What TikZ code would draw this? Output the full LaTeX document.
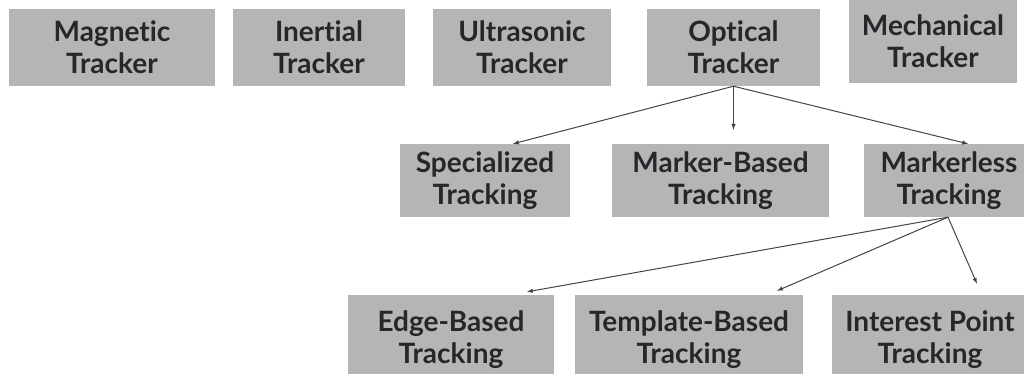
\documentclass[tikz,border=0pt]{standalone}
\usepackage{fontspec}
\setsansfont[Ligatures=NoCommon]{Lato}
\usepackage{tikz}
\usetikzlibrary{arrows}
\definecolor{boxgray}{HTML}{B5B5B5}
\definecolor{txtgray}{HTML}{26262B}
\definecolor{lingray}{HTML}{444444}
\tikzset{
  trknode/.style = {align=center, inner sep=0pt, text centered,
    font=\sffamily\bfseries\fontsize{28}{32}\selectfont, text=txtgray},
  trk_top/.style = {trknode, rectangle, fill=boxgray,
    minimum height=77pt},% rangee du haut, capteurs
  trk_mid/.style = {trknode, rectangle, fill=boxgray,
    minimum height=73pt},% rangee du milieu
  trk_low/.style = {trknode, rectangle, fill=boxgray,
    minimum height=90pt},% rangee du bas
  trk_arr/.style = {-latex, draw=lingray, line width=1pt}% fleche
}

\begin{document}
\begin{tikzpicture}[x=1pt, y=-1pt]
	\path[use as bounding box, clip] (0,0) rectangle (1024,374);
	\node [trk_top, minimum width=206pt] (mag) at (112,47.5) {Magnetic\\Tracker};
	\node [trk_top, minimum width=172pt] (ine) at (319,47.5) {Inertial\\Tracker};
	\node [trk_top, minimum width=178pt] (ult) at (522,47.5) {Ultrasonic\\Tracker};
	\node [trk_top, minimum width=173pt] (opt) at (733.5,47.5) {Optical\\Tracker};
	\node [trk_top, minimum width=168pt, minimum height=83pt] (mec) at (933,41.5) {Mechanical\\Tracker};

	\node [trk_mid, minimum width=170pt] (spe) at (485,180.5) {Specialized\\Tracking};
	\node [trk_mid, minimum width=217pt] (mkb) at (720.5,180.5) {Marker-Based\\Tracking};
	\node [trk_mid, minimum width=170pt] (mkl) at (949,180.5) {Markerless\\Tracking};

	\node [trk_low, minimum width=206pt] (edg) at (451,340) {Edge-Based\\Tracking};
	\node [trk_low, minimum width=228pt] (tpl) at (689,340) {Template-Based\\Tracking};
	\node [trk_low, minimum width=196pt] (ipt) at (930,340) {Interest Point\\Tracking};

	\draw [trk_arr] (opt.south) -- ([xshift=28pt]spe.north);
	\draw [trk_arr] (opt.south) -- ([yshift=14pt]opt.south |- mkb.north);
	\draw [trk_arr] (opt.south) -- ([xshift=19pt]mkl.north);

	\draw [trk_arr] ([xshift=-1pt]mkl.south) -- ([xshift=76pt,yshift=3pt]edg.north);
	\draw [trk_arr] ([xshift=-1pt]mkl.south) -- ([xshift=88pt,yshift=4pt]tpl.north);
	\draw [trk_arr] ([xshift=-1pt]mkl.south) -- ([xshift=47pt,yshift=11pt]ipt.north);
\end{tikzpicture}
\end{document}
